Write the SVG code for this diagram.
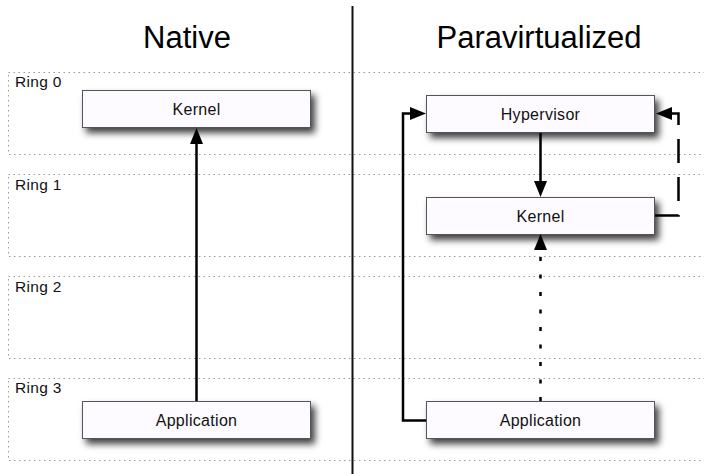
<svg xmlns="http://www.w3.org/2000/svg" width="704" height="474" viewBox="0 0 704 474">
  <style>
    .band { fill: none; stroke: #9a9a9a; stroke-width: 1; stroke-dasharray: 1.5 3.5; }
    .ring { font-family: "Liberation Sans", Arial, sans-serif; font-size: 15.5px; letter-spacing: 0.3px; fill: #111; }
    .title { font-family: "Liberation Sans", Arial, sans-serif; font-size: 31px; fill: #000; text-anchor: middle; }
    .box { fill: #fdfbff; stroke: #555; stroke-width: 1; filter: url(#shadow); }
    .label { font-family: "Liberation Sans", Arial, sans-serif; font-size: 16px; letter-spacing: 0.3px; fill: #111; text-anchor: middle; }
    .conn { fill: none; stroke: #000; stroke-width: 2.5; }
  </style>
  <defs>
    <filter id="shadow" x="-20%" y="-50%" width="150%" height="220%">
      <feDropShadow dx="4" dy="5" stdDeviation="3.5" flood-color="#000" flood-opacity="0.75"/>
    </filter>
    <marker id="arrow" markerUnits="userSpaceOnUse" viewBox="0 -7 16 14" refX="0" refY="0" markerWidth="16" markerHeight="14" orient="auto">
      <path d="M0,-6.5 L16,0 L0,6.5 Z" fill="#000"/>
    </marker>
  </defs>

  <rect width="704" height="474" fill="#fff"/>

  <!-- privilege ring bands -->
  <g id="rings">
    <rect class="band" x="8.5" y="72.5" width="720" height="82"/>
    <rect class="band" x="8.5" y="174.5" width="720" height="82"/>
    <rect class="band" x="8.5" y="276.5" width="720" height="82"/>
    <rect class="band" x="8.5" y="378.5" width="720" height="82"/>
    <text class="ring" x="15" y="87">Ring 0</text>
    <text class="ring" x="15" y="190">Ring 1</text>
    <text class="ring" x="15" y="292">Ring 2</text>
    <text class="ring" x="15" y="393">Ring 3</text>
  </g>

  <!-- column divider and headings -->
  <line x1="352.5" y1="6" x2="352.5" y2="474" stroke="#111" stroke-width="2"/>
  <text class="title" x="187" y="48">Native</text>
  <text class="title" x="539" y="48">Paravirtualized</text>

  <!-- native column -->
  <g id="native-kernel">
    <rect class="box" x="82.5" y="90.5" width="228" height="37"/>
    <text class="label" x="196.5" y="114.5">Kernel</text>
  </g>
  <g id="native-application">
    <rect class="box" x="82.5" y="401.5" width="228" height="37"/>
    <text class="label" x="196.5" y="425.5">Application</text>
  </g>

  <!-- paravirtualized column -->
  <g id="hypervisor">
    <rect class="box" x="426.5" y="95.5" width="228" height="37"/>
    <text class="label" x="540.5" y="119.5">Hypervisor</text>
  </g>
  <g id="pv-kernel">
    <rect class="box" x="426.5" y="197.5" width="228" height="37"/>
    <text class="label" x="540.5" y="221.5">Kernel</text>
  </g>
  <g id="pv-application">
    <rect class="box" x="426.5" y="401.5" width="228" height="37"/>
    <text class="label" x="540.5" y="425.5">Application</text>
  </g>

  <g id="connectors">
    <path class="conn" d="M196.5,401 V144" marker-end="url(#arrow)"/>
    <path class="conn" d="M540.5,133 V181" marker-end="url(#arrow)"/>
    <path class="conn" d="M540.5,401 V250" stroke-dasharray="4 13.5" stroke-width="3" marker-end="url(#arrow)"/>
    <path class="conn" d="M426,420.5 H403 V113.5 H410" marker-end="url(#arrow)"/>
    <path class="conn" d="M655,215.5 H678.5 V113.5 H672" stroke-dasharray="24 14" marker-end="url(#arrow)"/>
  </g>
</svg>
